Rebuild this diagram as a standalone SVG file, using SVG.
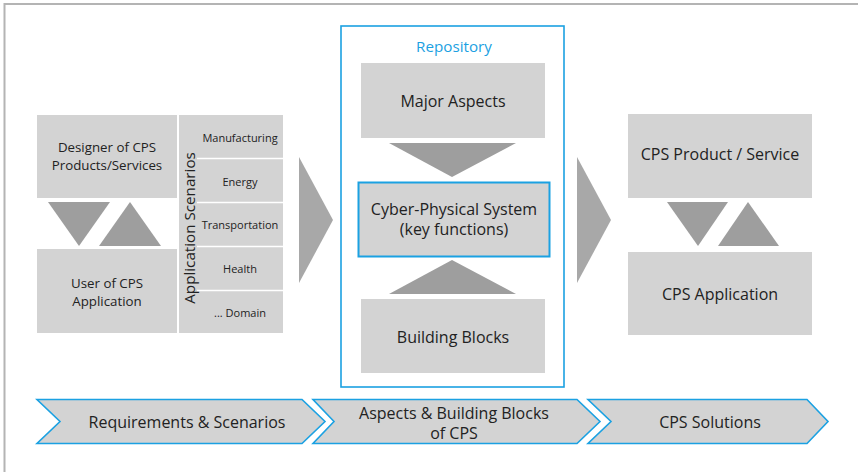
<svg xmlns="http://www.w3.org/2000/svg" width="858" height="472" viewBox="0 0 858 472">
  <style>
    text { font-family: "Open Sans", "Noto Sans", "Liberation Sans", sans-serif; fill: #222; text-anchor: middle; dominant-baseline: central; }
    .box { fill: #d3d3d3; }
    .tri { fill: #9e9e9e; }
    .big { fill: #a8a8a8; }
    .chev { fill: #d3d3d3; stroke: #1ba1e2; stroke-width: 1.6; }
    .t16 { font-size: 16px; }
    .t13 { font-size: 13.3px; }
    .t11 { font-size: 11px; }
    .sep { stroke: #ffffff; stroke-width: 1.6; }
  </style>

  <rect width="858" height="472" fill="#ffffff"/>
  <!-- outer frame -->
  <rect x="4.5" y="4" width="870" height="490" fill="none" stroke="#b4b4b4" stroke-width="2"/>

  <!-- stakeholders -->
  <g id="designer">
    <rect class="box" x="37" y="115" width="140" height="83"/>
    <text class="t13" x="107" y="147">Designer of CPS</text>
    <text class="t13" x="107" y="165">Products/Services</text>
  </g>
  <g id="user">
    <rect class="box" x="37" y="249" width="140" height="84"/>
    <text class="t13" x="107" y="283">User of CPS</text>
    <text class="t13" x="107" y="301">Application</text>
  </g>

  <!-- application scenarios column -->
  <g id="scenarios">
    <rect class="box" x="179" y="115" width="104" height="218"/>
    <line class="sep" x1="197" y1="158.5" x2="283" y2="158.5"/>
    <line class="sep" x1="197" y1="202.5" x2="283" y2="202.5"/>
    <line class="sep" x1="197" y1="246.5" x2="283" y2="246.5"/>
    <line class="sep" x1="197" y1="290.5" x2="283" y2="290.5"/>
    <text style="font-size:15.2px" transform="translate(189 228) rotate(-90)">Application Scenarios</text>
    <text class="t11" x="240" y="137">Manufacturing</text>
    <text class="t11" x="240" y="181">Energy</text>
    <text class="t11" x="240" y="224">Transportation</text>
    <text class="t11" x="240" y="268">Health</text>
    <text class="t11" x="240" y="312">... Domain</text>
  </g>

  <!-- repository -->
  <g id="repository">
    <rect x="341" y="26" width="223" height="361" fill="none" stroke="#1ba1e2" stroke-width="1.6"/>
    <text x="454" y="46" style="font-size:15.2px; fill:#1ba1e2">Repository</text>
  </g>
  <g id="major-aspects">
    <rect class="box" x="361" y="63" width="184" height="75"/>
    <text class="t16" x="453" y="101">Major Aspects</text>
  </g>
  <g id="cps-core">
    <rect class="box" x="358.5" y="182.5" width="191" height="74" stroke="#1ba1e2" stroke-width="2"/>
    <text class="t16" x="454" y="209">Cyber-Physical System</text>
    <text class="t16" x="454" y="229">(key functions)</text>
  </g>
  <g id="building-blocks">
    <rect class="box" x="361" y="299" width="184" height="74"/>
    <text class="t16" x="453" y="337">Building Blocks</text>
  </g>

  <!-- solutions -->
  <g id="cps-product">
    <rect class="box" x="628" y="114" width="184" height="84"/>
    <text class="t16" x="720" y="154">CPS Product / Service</text>
  </g>
  <g id="cps-application">
    <rect class="box" x="628" y="252" width="184" height="83"/>
    <text class="t16" x="720" y="294">CPS Application</text>
  </g>

  <!-- connectors: triangles and flow arrows -->
  <g id="connectors">
    <polygon class="tri" points="48,202 110,202 79,246"/>
    <polygon class="tri" points="99,246 161,246 130,202"/>
    <polygon class="tri" points="389,143 516,143 452,177"/>
    <polygon class="tri" points="389,294 516,294 452,260"/>
    <polygon class="tri" points="667,202 728,202 698,246"/>
    <polygon class="tri" points="718,246 779,246 748,202"/>
    <polygon class="big" points="299,157 333,220 299,283"/>
    <polygon class="big" points="577,157 611,220 577,283"/>
  </g>

  <!-- process chevrons -->
  <g id="phase-requirements">
    <polygon class="chev" points="37,399.5 302,399.5 325,421.5 302,443.5 37,443.5 60,421.5"/>
    <text class="t16" x="187" y="422">Requirements &amp; Scenarios</text>
  </g>
  <g id="phase-aspects">
    <polygon class="chev" points="313,399.5 577,399.5 600,421.5 577,443.5 313,443.5 334,421.5"/>
    <text class="t16" x="454" y="413">Aspects &amp; Building Blocks</text>
    <text class="t16" x="454" y="433">of CPS</text>
  </g>
  <g id="phase-solutions">
    <polygon class="chev" points="588,399.5 807,399.5 828,421.5 807,443.5 588,443.5 611,421.5"/>
    <text class="t16" x="710" y="422">CPS Solutions</text>
  </g>
</svg>
